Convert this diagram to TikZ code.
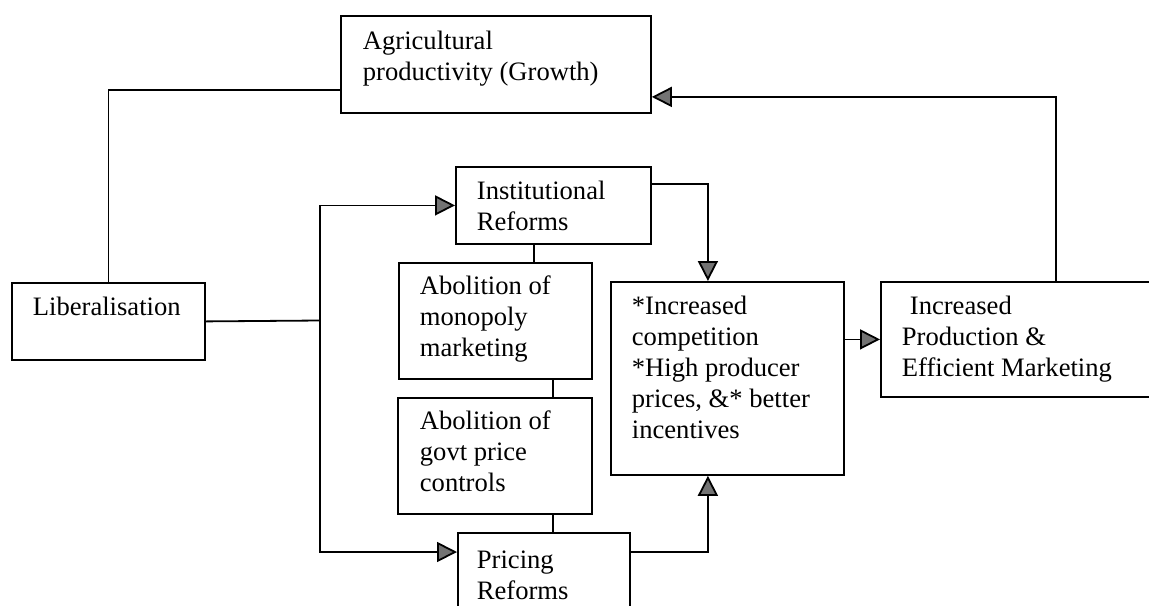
\documentclass[tikz,border=0pt]{standalone}
\usepackage{fontspec}
\setmainfont{Liberation Serif}
\usepackage{tikz}
\usetikzlibrary{arrows.meta}
\newcommand{\boxfont}{\fontsize{13.3pt}{15.5pt}\selectfont}
\tikzset{
  box/.style={draw, line width=0.9pt, inner sep=0pt, anchor=north west},
  lbl/.style={anchor=north west, inner sep=0pt, align=left, font=\boxfont},
  flow/.style={-{Triangle[length=10pt,width=10pt,fill=black!55]}}
}
\begin{document}
\begin{tikzpicture}[x=0.5pt, y=-0.5pt, line width=0.9pt]
\useasboundingbox (0,0) rectangle (1149,605);
\clip (0,0) rectangle (1149,605);

% boxes
\node[box, minimum width=155pt, minimum height=48.5pt] (agri) at (340,15) {};
\node[box, minimum width=96.5pt, minimum height=38.5pt] (lib) at (11,282) {};
\node[box, minimum width=97.5pt, minimum height=38.5pt] (inst) at (455,166) {};
\node[box, minimum width=96.5pt, minimum height=58pt] (abolA) at (398,262) {};
\node[box, minimum width=97pt, minimum height=58pt] (abolB) at (397,397) {};
\node[box, minimum width=86pt, minimum height=60pt] (pricing) at (457,532) {};
\node[box, minimum width=116.5pt, minimum height=96.5pt] (comp) at (610,281) {};
\node[box, minimum width=150pt, minimum height=57.5pt] (prod) at (880,281) {};

% texts
\node[lbl] (agriT) at (362,30) {Agricultural\\productivity (Growth)};
\node[lbl] (libT) at (32,296) {Liberalisation};
\node[lbl] (instT) at (476,180) {Institutional\\Reforms};
\node[lbl] (abolAT) at (419,275) {Abolition of\\monopoly\\marketing};
\node[lbl] (abolBT) at (419,410) {Abolition of\\govt price\\controls};
\node[lbl] (pricingT) at (476,550) {Pricing\\Reforms};
\node[lbl] (compT) at (631,295) {*Increased\\competition\\*High producer\\prices, \&* better\\incentives};
\node[lbl] (prodT) at (901,295) {\hspace{4pt}Increased\\Production \&\\Efficient Marketing};

% connectors
\coordinate (split) at (320,320.5);
\draw ([yshift=-12.75pt]agri.west) -| (lib.north);
\draw (lib.east) -- (split);
\draw[flow] (split) |- (inst.west);
\draw[flow] (split) |- ([yshift=-10pt]pricing.north west);
\draw ([xshift=-9.75pt]inst.south) -- ([xshift=19.25pt]abolA.north);
\draw ([xshift=28.75pt]abolA.south) -- ([xshift=29pt]abolB.north);
\draw ([xshift=29pt]abolB.south) -- ([xshift=4.5pt]pricing.north);
\draw[flow] ([yshift=10.75pt]inst.east) -| ([xshift=-9.75pt]comp.north);
\draw[flow] ([yshift=-10pt]pricing.north east) -| ([xshift=-9.75pt]comp.south);
\draw[flow] (comp.east |- prod.west) -- (prod.west);
\draw[flow] ([xshift=12.5pt]prod.north) |- ([yshift=-16.25pt]agri.east);

\end{tikzpicture}
\end{document}
